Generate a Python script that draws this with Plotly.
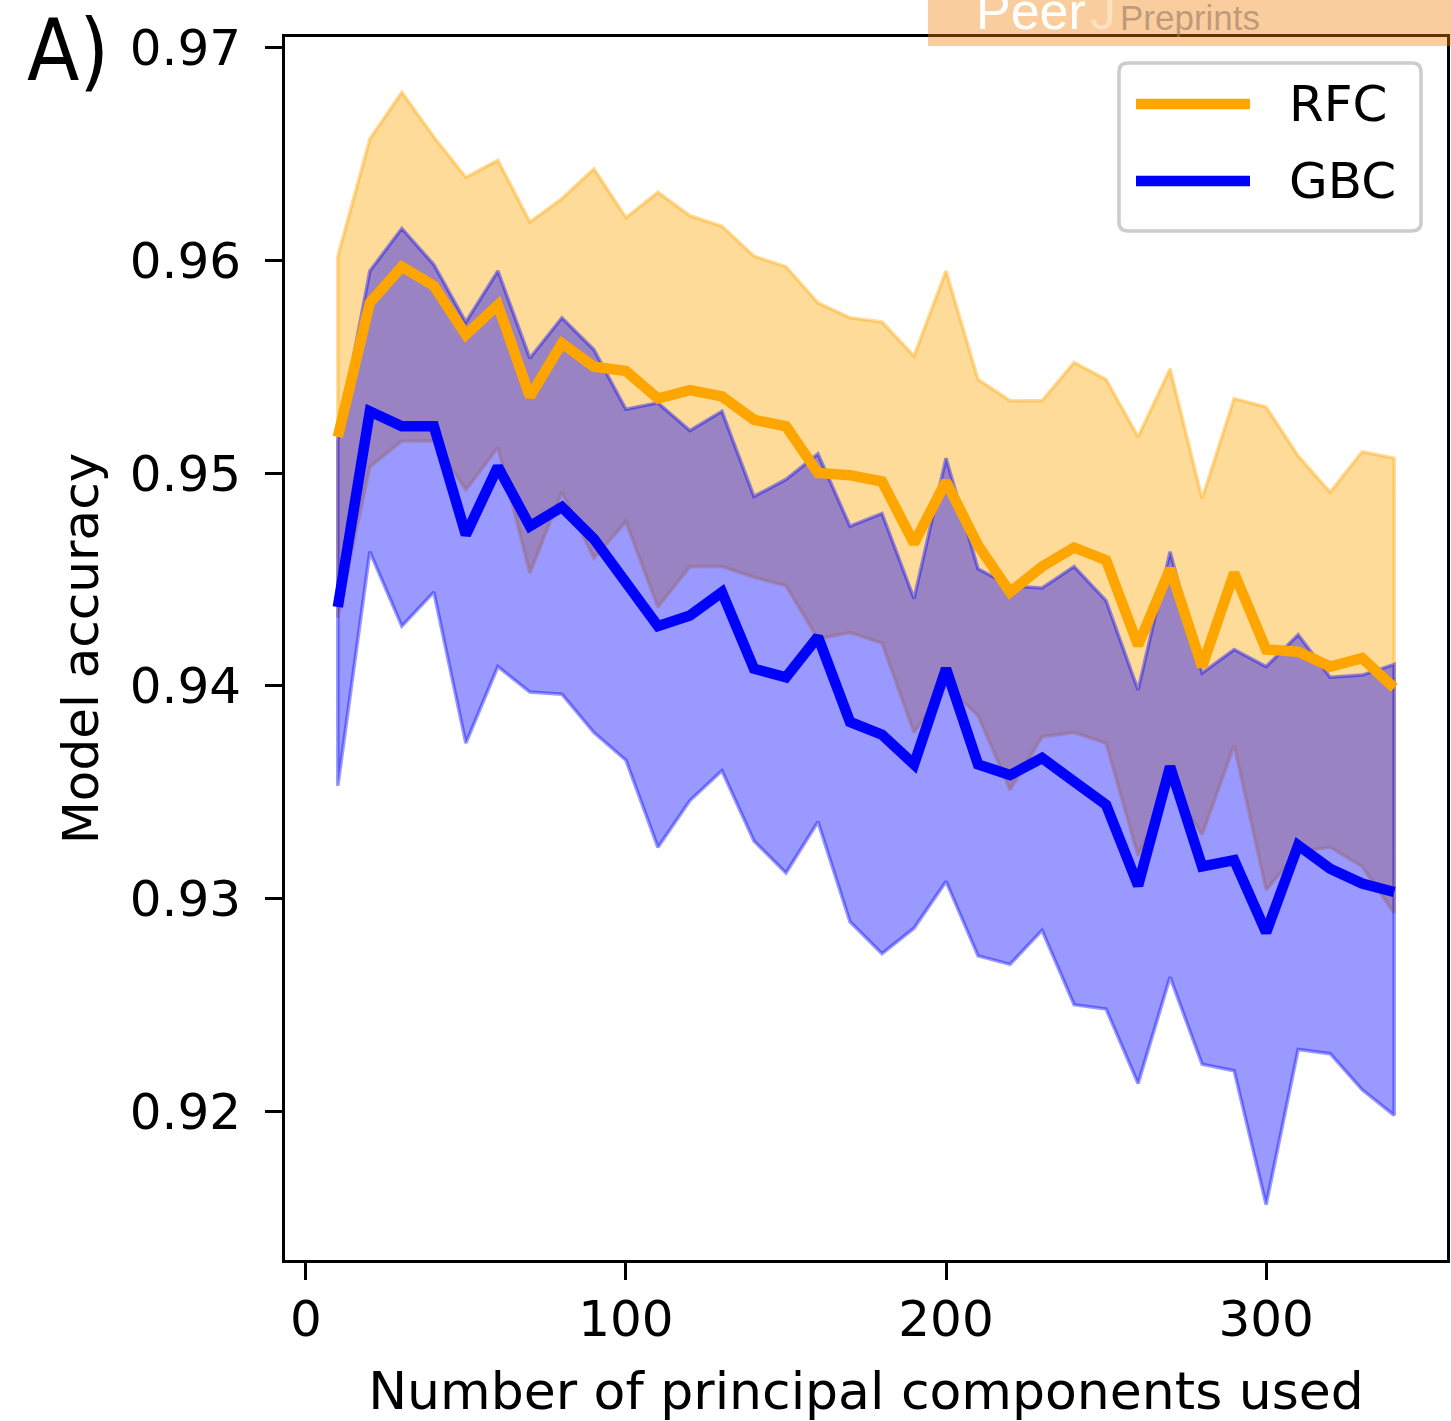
import plotly.graph_objects as go

# ---------------- data ----------------
n_components = [10, 20, 30, 40, 50, 60, 70, 80, 90, 100, 110, 120, 130, 140, 150, 160, 170,
                180, 190, 200, 210, 220, 230, 240, 250, 260, 270, 280, 290, 300, 310, 320, 330, 340]

rfc_mean = [0.9517, 0.9580, 0.9597, 0.9588, 0.9565, 0.9579, 0.9536, 0.9561, 0.9550, 0.9548,
            0.9535, 0.9539, 0.9536, 0.9525, 0.9522, 0.9500, 0.9499, 0.9496, 0.9467, 0.9496,
            0.9466, 0.9444, 0.9456, 0.9465, 0.9459, 0.9419, 0.9455, 0.9409, 0.9453, 0.9417,
            0.9416, 0.9409, 0.9413, 0.9399]
rfc_upper = [0.9602, 0.9657, 0.9679, 0.9658, 0.9639, 0.9647, 0.9618, 0.9629, 0.9643, 0.9620,
             0.9632, 0.9621, 0.9616, 0.9602, 0.9597, 0.9580, 0.9573, 0.9571, 0.9555, 0.9595,
             0.9544, 0.9534, 0.9534, 0.9552, 0.9544, 0.9517, 0.9549, 0.9488, 0.9535, 0.9531,
             0.9508, 0.9491, 0.9510, 0.9507]
rfc_lower = [0.9432, 0.9503, 0.9515, 0.9515, 0.9492, 0.9512, 0.9453, 0.9491, 0.9460, 0.9477,
             0.9437, 0.9456, 0.9456, 0.9451, 0.9447, 0.9422, 0.9425, 0.9420, 0.9378, 0.9400,
             0.9386, 0.9351, 0.9376, 0.9378, 0.9373, 0.9320, 0.9354, 0.9330, 0.9372, 0.9304,
             0.9322, 0.9324, 0.9315, 0.9293]

gbc_mean = [0.9437, 0.9529, 0.9522, 0.9522, 0.9471, 0.9503, 0.9475, 0.9484, 0.9469, 0.9449,
            0.9428, 0.9433, 0.9444, 0.9408, 0.9404, 0.9423, 0.9383, 0.9377, 0.9363, 0.9408,
            0.9363, 0.9358, 0.9366, 0.9355, 0.9344, 0.9306, 0.9362, 0.9315, 0.9318, 0.9284,
            0.9325, 0.9314, 0.9307, 0.9303]
gbc_upper = [0.9516, 0.9595, 0.9615, 0.9598, 0.9571, 0.9595, 0.9554, 0.9573, 0.9558, 0.9530,
             0.9533, 0.9520, 0.9529, 0.9489, 0.9497, 0.9509, 0.9475, 0.9481, 0.9441, 0.9507,
             0.9455, 0.9447, 0.9446, 0.9456, 0.9440, 0.9398, 0.9463, 0.9406, 0.9417, 0.9409,
             0.9424, 0.9404, 0.9405, 0.9410]
gbc_lower = [0.9353, 0.9463, 0.9428, 0.9444, 0.9373, 0.9409, 0.9397, 0.9396, 0.9378, 0.9365,
             0.9324, 0.9346, 0.9360, 0.9327, 0.9312, 0.9336, 0.9289, 0.9274, 0.9286, 0.9308,
             0.9273, 0.9269, 0.9285, 0.9250, 0.9248, 0.9213, 0.9263, 0.9222, 0.9219, 0.9156,
             0.9229, 0.9227, 0.9210, 0.9198]

x_ticks = [0, 100, 200, 300]
y_ticks = [0.92, 0.93, 0.94, 0.95, 0.96, 0.97]
y_tick_labels = ["0.92", "0.93", "0.94", "0.95", "0.96", "0.97"]
series_names = ["RFC", "GBC"]

# ---------------- style ----------------
W, H = 1451, 1421
L, R, T, B = 285, 4, 37, 161
PW, PH = W - L - R, H - T - B
FONT = "DejaVu Sans"
ORANGE = "#FFA500"
BLUE = "#0000FF"
ORANGE_A = "rgba(255,165,0,0.4)"
BLUE_A = "rgba(0,0,255,0.4)"


def px(xp):
    return (xp - L) / PW


def py(yp):
    return (H - B - yp) / PH


fig = go.Figure()


def band(lower, upper, color):
    xs = n_components + n_components[::-1] + [n_components[0]]
    ys = upper + lower[::-1] + [upper[0]]
    fig.add_trace(go.Scatter(x=xs, y=ys, mode="lines", fill="toself", fillcolor=color,
                             line=dict(color=color, width=3.5), hoverinfo="skip",
                             showlegend=False))


band(rfc_lower, rfc_upper, ORANGE_A)
band(gbc_lower, gbc_upper, BLUE_A)

fig.add_trace(go.Scatter(x=n_components, y=rfc_mean, mode="lines", name=series_names[0],
                         line=dict(color=ORANGE, width=10.5), showlegend=False))
fig.add_trace(go.Scatter(x=n_components, y=gbc_mean, mode="lines", name=series_names[1],
                         line=dict(color=BLUE, width=10.5), showlegend=False))

axis_common = dict(showline=True, linecolor="black", linewidth=3, mirror=True,
                   ticks="outside", ticklen=17, tickwidth=3, tickcolor="black",
                   showgrid=False, zeroline=False,
                   tickfont=dict(family=FONT, size=50, color="black"))

fig.update_xaxes(range=[-6.5, 356.5], tickvals=x_ticks, ticklabelstandoff=-4,
                 title=dict(text="Number of principal components used",
                            font=dict(family=FONT, size=52, color="black"), standoff=34),
                 **axis_common)
fig.update_yaxes(range=[0.9130, 0.9705], tickvals=y_ticks, ticktext=y_tick_labels,
                 ticklabelstandoff=14,
                 title=dict(text="Model accuracy",
                            font=dict(family=FONT, size=50, color="black"), standoff=16),
                 **axis_common)

shapes = []
annotations = []

# legend box (rounded)
x0, x1, y0, y1 = px(1119), px(1421), py(231), py(63)
rx, ry = 9 / PW, 9 / PH
path = (f"M{x0+rx},{y1} L{x1-rx},{y1} Q{x1},{y1} {x1},{y1-ry} L{x1},{y0+ry} "
        f"Q{x1},{y0} {x1-rx},{y0} L{x0+rx},{y0} Q{x0},{y0} {x0},{y0+ry} "
        f"L{x0},{y1-ry} Q{x0},{y1} {x0+rx},{y1} Z")
shapes.append(dict(type="path", xref="paper", yref="paper", path=path,
                   fillcolor="rgba(255,255,255,0.8)", line=dict(color="#cccccc", width=3.5),
                   layer="above"))
for name, col, yl in [(series_names[0], ORANGE, 104), (series_names[1], BLUE, 181)]:
    shapes.append(dict(type="line", xref="paper", yref="paper", x0=px(1136), x1=px(1250),
                       y0=py(yl), y1=py(yl), line=dict(color=col, width=10.5), layer="above"))
    annotations.append(dict(text=name, xref="paper", yref="paper", x=px(1287), y=py(yl),
                            xanchor="left", yanchor="middle", showarrow=False,
                            font=dict(family=FONT, size=50, color="black")))

# panel label
annotations.append(dict(text="A)", xref="paper", yref="paper", x=px(25), y=py(50),
                        xanchor="left", yanchor="middle", showarrow=False,
                        font=dict(family="Liberation Sans Narrow, DejaVu Sans Condensed, Liberation Sans",
                                  size=85, color="black")))

# PeerJ Preprints banner
shapes.append(dict(type="rect", xref="paper", yref="paper", x0=px(928), x1=px(1451),
                   y0=py(46), y1=py(0), fillcolor="rgba(242,130,12,0.4)",
                   line=dict(width=0), layer="above"))
annotations.append(dict(text="Peer", xref="paper", yref="paper", x=px(974), y=py(42),
                        xanchor="left", yanchor="bottom", showarrow=False,
                        font=dict(family="Liberation Sans", size=52, color="white")))
annotations.append(dict(text="J", xref="paper", yref="paper", x=px(1088), y=py(42),
                        xanchor="left", yanchor="bottom", showarrow=False,
                        font=dict(family="Liberation Sans", size=52, color="#fde0bf")))
annotations.append(dict(text="Preprints", xref="paper", yref="paper", x=px(1118), y=py(39),
                        xanchor="left", yanchor="bottom", showarrow=False,
                        font=dict(family="Liberation Sans", size=35, color="rgba(150,120,100,0.6)")))

fig.update_layout(width=W, height=H, margin=dict(l=L, r=R, t=T, b=B, autoexpand=False),
                  paper_bgcolor="white", plot_bgcolor="white", showlegend=False,
                  shapes=shapes, annotations=annotations)

fig.write_html("out.html", config={"displayModeBar": False},
               post_script="document.body.style.margin='0px';")
